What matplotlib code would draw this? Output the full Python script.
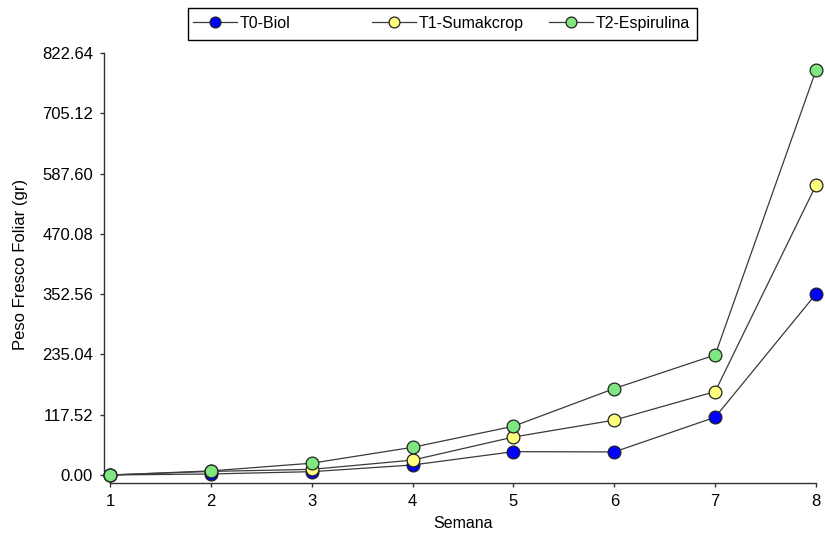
import matplotlib
matplotlib.use("Agg")
import matplotlib.pyplot as plt
from matplotlib.patches import Rectangle

plt.rcParams['font.family'] = ['Liberation Sans', 'DejaVu Sans']

semanas = [1, 2, 3, 4, 5, 6, 7, 8]
t0_biol = [0, 2, 6.5, 19.5, 45.5, 45, 112.6, 353]
t1_suma = [0, 7, 11, 29, 74, 107, 162.6, 565]
t2_espi = [0, 8, 23, 54, 95, 168.5, 234, 789]
series = [("T0-Biol", t0_biol, "#0000FF"),
          ("T1-Sumakcrop", t1_suma, "#FFFF80"),
          ("T2-Espirulina", t2_espi, "#80E680")]
yticks = [0.00, 117.52, 235.04, 352.56, 470.08, 587.60, 705.12, 822.64]

W, H = 825, 534
fig = plt.figure(figsize=(W / 100, H / 100), dpi=100)
ax = fig.add_axes([110 / W, 1 - 475 / H, 706 / W, 422 / H])

handles = []
for name, vals, col in series:
    h, = ax.plot(semanas, vals, color="#3a3a3a", lw=0.9, marker="o", ms=9.2,
                 markerfacecolor=col, markeredgecolor="#222222", markeredgewidth=0.9,
                 clip_on=False, zorder=3, label=name)
    handles.append(h)

ax.set_xlim(1, 8)
ax.set_ylim(0, 822.64)
ax.set_xticks(semanas)
ax.set_yticks(yticks)
ax.set_yticklabels([f"{v:.2f}" for v in yticks])
for s in ["top", "right"]:
    ax.spines[s].set_visible(False)
for s in ["left", "bottom"]:
    ax.spines[s].set_color("#333333")
    ax.spines[s].set_linewidth(1.0)
ax.spines["left"].set_position(("outward", 4.3))
ax.spines["bottom"].set_position(("outward", 5.8))
ax.spines["left"].set_bounds(-4, 822.64)
ax.tick_params(direction="out", length=3, width=1, colors="#333333", labelsize=12,
               labelcolor="black")
ax.tick_params(axis="y", pad=5)
ax.tick_params(axis="x", pad=5)
ax.set_xlabel("Semana", fontsize=11.5, labelpad=5)
ax.set_ylabel("Peso Fresco Foliar (gr)", fontsize=12, labelpad=10)

# legend frame
fig.patches.append(Rectangle((188 / W, 1 - 40 / H), 509 / W, 32 / H, transform=fig.transFigure,
                             fill=False, edgecolor="black", lw=1.0))
starts = [193, 372, 549]
for h, xs in zip(handles, starts):
    lg = fig.legend(handles=[h], loc="center left", bbox_to_anchor=(xs / W, 1 - 23.5 / H),
                    frameon=False, fontsize=11.5, handlelength=2.75, handletextpad=0.2,
                    borderpad=0, borderaxespad=0, markerscale=0.85)

fig.savefig("out.png", dpi=100)
